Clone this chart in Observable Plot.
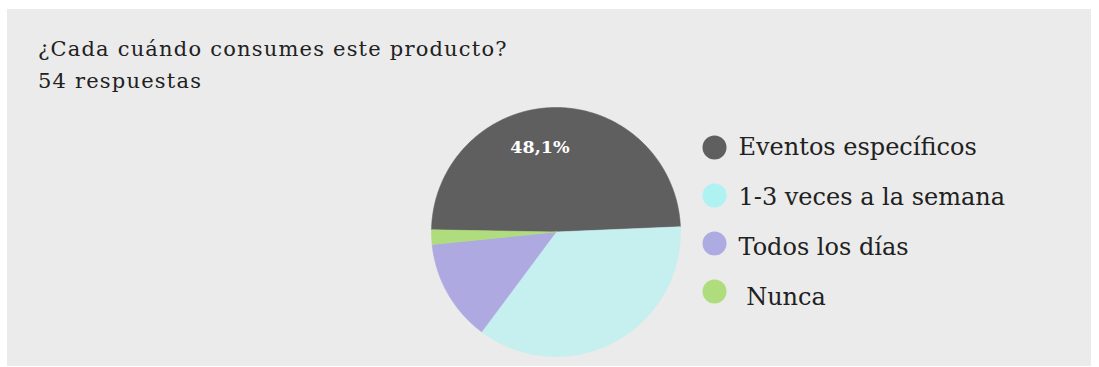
<!DOCTYPE html>
<html><head><meta charset="utf-8">
<script src="https://cdn.jsdelivr.net/npm/d3@7"></script>
<script src="https://cdn.jsdelivr.net/npm/@observablehq/plot@0.6"></script>
<style>
body{margin:0;background:#fff;font-family:"DejaVu Serif",serif;}
#panel{position:absolute;left:7px;top:9px;width:1084px;height:357px;background:#ebebeb;}
.t{position:absolute;left:38px;font-size:21px;letter-spacing:1.2px;color:#212121;white-space:nowrap;line-height:21px;}
.abs{position:absolute;}
svg{overflow:visible}
</style></head><body>
<div id="panel"></div>
<div class="t" style="top:39px">¿Cada cuándo consumes este producto?</div>
<div class="t" style="top:70.5px">54 respuestas</div>
<div id="pie" class="abs" style="left:424.5px;top:101px"></div>
<div id="legdots" class="abs" style="left:702px;top:120px"></div>
<div id="legtext" class="abs" style="left:702px;top:120px"></div>
<script>
const categories = ["Eventos específicos", "1-3 veces a la semana", "Todos los días", "\u00a0Nunca"];
const counts = [26, 19, 7, 1];
const totalResponses = 54;

const sliceColors = ["#5f5f5f", "#c6efef", "#aea9e0", "#afdd7e"];
const legendColors = ["#5f5f5f", "#aef2f2", "#aeaae2", "#afdd7e"];

const R = 124.5, H = 130.5;
const start = -89 * Math.PI / 180;
const arcs = d3.pie().sort(null).startAngle(start).endAngle(start + 2 * Math.PI)(counts);
const rows = [];
arcs.forEach((a, i) => {
  const cat = categories[i];
  rows.push({cat, x: 0, y: 0});
  const n = Math.max(2, Math.ceil((a.endAngle - a.startAngle) / (Math.PI / 360)));
  for (let k = 0; k <= n; k++) {
    const t = a.startAngle + (a.endAngle - a.startAngle) * k / n;
    rows.push({cat, x: R * Math.sin(t), y: R * Math.cos(t)});
  }
  rows.push({cat, x: 0, y: 0});
});
const labels = arcs.slice(0, 1).map((a, i) => {
  const m = (a.startAngle + a.endAngle) / 2;
  return {x: 84.5 * Math.sin(m), y: 84.5 * Math.cos(m),
    text: (counts[i] / totalResponses * 100).toFixed(1).replace(".", ",") + "%"};
});

document.getElementById("pie").append(Plot.plot({
  width: 2 * H, height: 2 * H, margin: 0,
  x: {domain: [-H, H], axis: null},
  y: {domain: [-H, H], axis: null},
  color: {domain: categories, range: sliceColors},
  marks: [
    Plot.line(rows, {x: "x", y: "y", z: "cat", fill: "cat", stroke: "cat", strokeWidth: 0.6}),
    Plot.text(labels, {x: "x", y: "y", text: "text", fill: "white", fontSize: 17.5, fontWeight: "bold", dx: -15,
      fontFamily: "DejaVu Serif", textAnchor: "middle", lineAnchor: "middle"})
  ]
}));

document.getElementById("legdots").append(Plot.plot({
  width: 360, height: 200, margin: 0,
  y: {type: "point", domain: categories, range: [27.3, 171.7], padding: 0, axis: null},
  color: {domain: categories, range: legendColors},
  marks: [
    Plot.dot(categories, {y: d => d, fill: d => d, r: 12, frameAnchor: "left", dx: 12})
  ]
}));

document.getElementById("legtext").append(Plot.plot({
  width: 360, height: 200, margin: 0,
  y: {type: "point", domain: categories, range: [33.3, 185], padding: 0, axis: null},
  marks: [
    Plot.text(categories, {y: d => d, text: d => d, frameAnchor: "left", dx: 36, textAnchor: "start",
      lineAnchor: "bottom", fontSize: 24, fontFamily: "DejaVu Serif", fill: "#212121"})
  ]
}));
</script>
</body></html>
